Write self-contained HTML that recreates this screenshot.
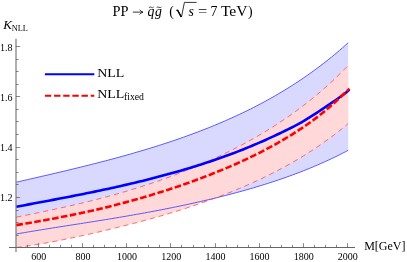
<!DOCTYPE html>
<html><head><meta charset="utf-8"><style>
html,body{margin:0;padding:0;background:#fff;}
svg{display:block;font-family:"Liberation Serif",serif;fill:#000;will-change:transform;opacity:0.999;}
</style></head><body>
<svg width="407" height="262" viewBox="0 0 407 262">
<rect width="407" height="262" fill="#fff"/>
<path d="M16.40,182.20 L19.19,181.55 L21.98,180.91 L24.76,180.26 L27.55,179.62 L30.34,178.98 L33.13,178.33 L35.92,177.69 L38.71,177.05 L41.49,176.40 L44.28,175.76 L47.07,175.11 L49.86,174.47 L52.65,173.82 L55.44,173.16 L58.22,172.51 L61.01,171.85 L63.80,171.19 L66.59,170.53 L69.38,169.86 L72.16,169.19 L74.95,168.51 L77.74,167.83 L80.53,167.15 L83.32,166.46 L86.11,165.77 L88.89,165.08 L91.68,164.38 L94.47,163.67 L97.26,162.96 L100.05,162.24 L102.84,161.52 L105.62,160.79 L108.41,160.06 L111.20,159.32 L113.99,158.57 L116.78,157.82 L119.56,157.06 L122.35,156.29 L125.14,155.52 L127.93,154.73 L130.72,153.94 L133.51,153.14 L136.29,152.34 L139.08,151.52 L141.87,150.70 L144.66,149.86 L147.45,149.02 L150.24,148.17 L153.02,147.31 L155.81,146.44 L158.60,145.55 L161.39,144.66 L164.18,143.76 L166.96,142.85 L169.75,141.92 L172.54,140.99 L175.33,140.04 L178.12,139.08 L180.91,138.11 L183.69,137.13 L186.48,136.13 L189.27,135.12 L192.06,134.10 L194.85,133.07 L197.64,132.02 L200.42,130.95 L203.21,129.87 L206.00,128.78 L208.79,127.67 L211.58,126.54 L214.36,125.40 L217.15,124.24 L219.94,123.07 L222.73,121.88 L225.52,120.67 L228.31,119.44 L231.09,118.19 L233.88,116.93 L236.67,115.65 L239.46,114.34 L242.25,113.02 L245.04,111.68 L247.82,110.32 L250.61,108.94 L253.40,107.53 L256.19,106.10 L258.98,104.65 L261.76,103.18 L264.55,101.68 L267.34,100.16 L270.13,98.61 L272.92,97.03 L275.71,95.43 L278.49,93.81 L281.28,92.16 L284.07,90.48 L286.86,88.77 L289.65,87.03 L292.44,85.27 L295.22,83.47 L298.01,81.65 L300.80,79.79 L303.59,77.91 L306.38,75.99 L309.16,74.03 L311.95,72.04 L314.74,70.02 L317.53,67.96 L320.32,65.87 L323.11,63.73 L325.89,61.57 L328.68,59.36 L331.47,57.11 L334.26,54.82 L337.05,52.49 L339.84,50.12 L342.62,47.71 L345.41,45.25 L348.20,42.75 L348.20,150.30 L345.41,151.77 L342.62,153.21 L339.84,154.62 L337.05,156.01 L334.26,157.37 L331.47,158.70 L328.68,160.00 L325.89,161.29 L323.11,162.55 L320.32,163.78 L317.53,165.00 L314.74,166.19 L311.95,167.36 L309.16,168.51 L306.38,169.63 L303.59,170.74 L300.80,171.83 L298.01,172.90 L295.22,173.96 L292.44,174.99 L289.65,176.01 L286.86,177.01 L284.07,178.00 L281.28,178.96 L278.49,179.92 L275.71,180.85 L272.92,181.77 L270.13,182.68 L267.34,183.57 L264.55,184.45 L261.76,185.32 L258.98,186.17 L256.19,187.01 L253.40,187.84 L250.61,188.65 L247.82,189.46 L245.04,190.25 L242.25,191.03 L239.46,191.80 L236.67,192.56 L233.88,193.31 L231.09,194.04 L228.31,194.77 L225.52,195.49 L222.73,196.20 L219.94,196.90 L217.15,197.59 L214.36,198.27 L211.58,198.94 L208.79,199.61 L206.00,200.26 L203.21,200.91 L200.42,201.55 L197.64,202.18 L194.85,202.81 L192.06,203.42 L189.27,204.03 L186.48,204.64 L183.69,205.23 L180.91,205.82 L178.12,206.40 L175.33,206.98 L172.54,207.55 L169.75,208.11 L166.96,208.66 L164.18,209.21 L161.39,209.76 L158.60,210.29 L155.81,210.83 L153.02,211.35 L150.24,211.88 L147.45,212.39 L144.66,212.90 L141.87,213.41 L139.08,213.91 L136.29,214.41 L133.51,214.90 L130.72,215.39 L127.93,215.88 L125.14,216.36 L122.35,216.83 L119.56,217.30 L116.78,217.77 L113.99,218.24 L111.20,218.70 L108.41,219.16 L105.62,219.61 L102.84,220.07 L100.05,220.52 L97.26,220.96 L94.47,221.41 L91.68,221.85 L88.89,222.29 L86.11,222.73 L83.32,223.17 L80.53,223.61 L77.74,224.05 L74.95,224.48 L72.16,224.92 L69.38,225.35 L66.59,225.79 L63.80,226.22 L61.01,226.66 L58.22,227.10 L55.44,227.54 L52.65,227.98 L49.86,228.42 L47.07,228.87 L44.28,229.32 L41.49,229.77 L38.71,230.22 L35.92,230.68 L33.13,231.14 L30.34,231.60 L27.55,232.07 L24.76,232.55 L21.98,233.03 L19.19,233.51 L16.40,234.00Z" fill="#d9d9ff" stroke="none"/>
<path d="M16.40,217.16 L19.19,216.59 L21.98,216.02 L24.76,215.45 L27.55,214.88 L30.34,214.31 L33.13,213.74 L35.92,213.16 L38.71,212.59 L41.49,212.01 L44.28,211.43 L47.07,210.84 L49.86,210.25 L52.65,209.66 L55.44,209.06 L58.22,208.46 L61.01,207.85 L63.80,207.23 L66.59,206.61 L69.38,205.98 L72.16,205.35 L74.95,204.71 L77.74,204.06 L80.53,203.40 L83.32,202.73 L86.11,202.06 L88.89,201.37 L91.68,200.68 L94.47,199.98 L97.26,199.27 L100.05,198.54 L102.84,197.81 L105.62,197.07 L108.41,196.32 L111.20,195.56 L113.99,194.78 L116.78,194.00 L119.56,193.21 L122.35,192.40 L125.14,191.58 L127.93,190.75 L130.72,189.91 L133.51,189.06 L136.29,188.20 L139.08,187.33 L141.87,186.44 L144.66,185.54 L147.45,184.63 L150.24,183.70 L153.02,182.76 L155.81,181.81 L158.60,180.85 L161.39,179.87 L164.18,178.88 L166.96,177.88 L169.75,176.86 L172.54,175.83 L175.33,174.78 L178.12,173.72 L180.91,172.64 L183.69,171.55 L186.48,170.44 L189.27,169.31 L192.06,168.17 L194.85,167.02 L197.64,165.85 L200.42,164.66 L203.21,163.45 L206.00,162.23 L208.79,160.99 L211.58,159.74 L214.36,158.46 L217.15,157.17 L219.94,155.86 L222.73,154.53 L225.52,153.18 L228.31,151.82 L231.09,150.43 L233.88,149.02 L236.67,147.59 L239.46,146.13 L242.25,144.66 L245.04,143.16 L247.82,141.64 L250.61,140.10 L253.40,138.53 L256.19,136.94 L258.98,135.32 L261.76,133.67 L264.55,132.00 L267.34,130.30 L270.13,128.58 L272.92,126.83 L275.71,125.04 L278.49,123.23 L281.28,121.39 L284.07,119.51 L286.86,117.60 L289.65,115.66 L292.44,113.68 L295.22,111.67 L298.01,109.62 L300.80,107.54 L303.59,105.42 L306.38,103.26 L309.16,101.06 L311.95,98.82 L314.74,96.53 L317.53,94.21 L320.32,91.83 L323.11,89.42 L325.89,86.95 L328.68,84.44 L331.47,81.87 L334.26,79.26 L337.05,76.59 L339.84,73.87 L342.62,71.10 L345.41,68.27 L348.20,65.38 L348.20,123.56 L345.41,125.89 L342.62,128.17 L339.84,130.41 L337.05,132.61 L334.26,134.76 L331.47,136.86 L328.68,138.93 L325.89,140.96 L323.11,142.94 L320.32,144.89 L317.53,146.80 L314.74,148.67 L311.95,150.51 L309.16,152.31 L306.38,154.08 L303.59,155.82 L300.80,157.53 L298.01,159.20 L295.22,160.85 L292.44,162.46 L289.65,164.05 L286.86,165.61 L284.07,167.14 L281.28,168.64 L278.49,170.12 L275.71,171.58 L272.92,173.01 L270.13,174.42 L267.34,175.80 L264.55,177.16 L261.76,178.50 L258.98,179.82 L256.19,181.11 L253.40,182.39 L250.61,183.64 L247.82,184.88 L245.04,186.10 L242.25,187.30 L239.46,188.48 L236.67,189.64 L233.88,190.79 L231.09,191.92 L228.31,193.04 L225.52,194.14 L222.73,195.22 L219.94,196.29 L217.15,197.34 L214.36,198.38 L211.58,199.41 L208.79,200.42 L206.00,201.42 L203.21,202.40 L200.42,203.37 L197.64,204.33 L194.85,205.28 L192.06,206.22 L189.27,207.14 L186.48,208.05 L183.69,208.95 L180.91,209.84 L178.12,210.72 L175.33,211.59 L172.54,212.45 L169.75,213.30 L166.96,214.14 L164.18,214.96 L161.39,215.78 L158.60,216.59 L155.81,217.38 L153.02,218.17 L150.24,218.95 L147.45,219.71 L144.66,220.47 L141.87,221.21 L139.08,221.95 L136.29,222.68 L133.51,223.40 L130.72,224.12 L127.93,224.83 L125.14,225.53 L122.35,226.23 L119.56,226.93 L116.78,227.62 L113.99,228.31 L111.20,228.99 L108.41,229.67 L105.62,230.34 L102.84,231.00 L100.05,231.66 L97.26,232.32 L94.47,232.96 L91.68,233.60 L88.89,234.23 L86.11,234.85 L83.32,235.46 L80.53,236.07 L77.74,236.67 L74.95,237.26 L72.16,237.84 L69.38,238.42 L66.59,238.99 L63.80,239.55 L61.01,240.10 L58.22,240.65 L55.44,241.19 L52.65,241.72 L49.86,242.24 L47.07,242.75 L44.28,243.25 L41.49,243.74 L38.71,244.22 L35.92,244.68 L33.13,245.13 L30.34,245.56 L27.55,245.98 L24.76,246.38 L21.98,246.76 L19.19,247.12 L16.40,247.46Z" fill="#ffd9d9" stroke="none"/>
<path d="M16.40,182.20 L19.19,181.55 L21.98,180.91 L24.76,180.26 L27.55,179.62 L30.34,178.98 L33.13,178.33 L35.92,177.69 L38.71,177.05 L41.49,176.40 L44.28,175.76 L47.07,175.11 L49.86,174.47 L52.65,173.82 L55.44,173.16 L58.22,172.51 L61.01,171.85 L63.80,171.19 L66.59,170.53 L69.38,169.86 L72.16,169.19 L74.95,168.51 L77.74,167.83 L80.53,167.15 L83.32,166.46 L86.11,165.77 L88.89,165.08 L91.68,164.38 L94.47,163.67 L97.26,162.96 L100.05,162.24 L102.84,161.52 L105.62,160.79 L108.41,160.06 L111.20,159.32 L113.99,158.57 L116.78,157.82 L119.56,157.06 L122.35,156.29 L125.14,155.52 L127.93,154.73 L130.72,153.94 L133.51,153.14 L136.29,152.34 L139.08,151.52 L141.87,150.70 L144.66,149.86 L147.45,149.02 L150.24,148.17 L153.02,147.31 L155.81,146.44 L158.60,145.55 L161.39,144.66 L164.18,143.76 L166.96,142.85 L169.75,141.92 L172.54,140.99 L175.33,140.04 L178.12,139.08 L180.91,138.11 L183.69,137.13 L186.48,136.13 L189.27,135.12 L192.06,134.10 L194.85,133.07 L197.64,132.02 L200.42,130.95 L203.21,129.87 L206.00,128.78 L208.79,127.67 L211.58,126.54 L214.36,125.40 L217.15,124.24 L219.94,123.07 L222.73,121.88 L225.52,120.67 L228.31,119.44 L231.09,118.19 L233.88,116.93 L236.67,115.65 L239.46,114.34 L242.25,113.02 L245.04,111.68 L247.82,110.32 L250.61,108.94 L253.40,107.53 L256.19,106.10 L258.98,104.65 L261.76,103.18 L264.55,101.68 L267.34,100.16 L270.13,98.61 L272.92,97.03 L275.71,95.43 L278.49,93.81 L281.28,92.16 L284.07,90.48 L286.86,88.77 L289.65,87.03 L292.44,85.27 L295.22,83.47 L298.01,81.65 L300.80,79.79 L303.59,77.91 L306.38,75.99 L309.16,74.03 L311.95,72.04 L314.74,70.02 L317.53,67.96 L320.32,65.87 L323.11,63.73 L325.89,61.57 L328.68,59.36 L331.47,57.11 L334.26,54.82 L337.05,52.49 L339.84,50.12 L342.62,47.71 L345.41,45.25 L348.20,42.75" fill="none" stroke="#3333ff" stroke-width="0.8"/>
<path d="M16.40,234.00 L19.19,233.51 L21.98,233.03 L24.76,232.55 L27.55,232.07 L30.34,231.60 L33.13,231.14 L35.92,230.68 L38.71,230.22 L41.49,229.77 L44.28,229.32 L47.07,228.87 L49.86,228.42 L52.65,227.98 L55.44,227.54 L58.22,227.10 L61.01,226.66 L63.80,226.22 L66.59,225.79 L69.38,225.35 L72.16,224.92 L74.95,224.48 L77.74,224.05 L80.53,223.61 L83.32,223.17 L86.11,222.73 L88.89,222.29 L91.68,221.85 L94.47,221.41 L97.26,220.96 L100.05,220.52 L102.84,220.07 L105.62,219.61 L108.41,219.16 L111.20,218.70 L113.99,218.24 L116.78,217.77 L119.56,217.30 L122.35,216.83 L125.14,216.36 L127.93,215.88 L130.72,215.39 L133.51,214.90 L136.29,214.41 L139.08,213.91 L141.87,213.41 L144.66,212.90 L147.45,212.39 L150.24,211.88 L153.02,211.35 L155.81,210.83 L158.60,210.29 L161.39,209.76 L164.18,209.21 L166.96,208.66 L169.75,208.11 L172.54,207.55 L175.33,206.98 L178.12,206.40 L180.91,205.82 L183.69,205.23 L186.48,204.64 L189.27,204.03 L192.06,203.42 L194.85,202.81 L197.64,202.18 L200.42,201.55 L203.21,200.91 L206.00,200.26 L208.79,199.61 L211.58,198.94 L214.36,198.27 L217.15,197.59 L219.94,196.90 L222.73,196.20 L225.52,195.49 L228.31,194.77 L231.09,194.04 L233.88,193.31 L236.67,192.56 L239.46,191.80 L242.25,191.03 L245.04,190.25 L247.82,189.46 L250.61,188.65 L253.40,187.84 L256.19,187.01 L258.98,186.17 L261.76,185.32 L264.55,184.45 L267.34,183.57 L270.13,182.68 L272.92,181.77 L275.71,180.85 L278.49,179.92 L281.28,178.96 L284.07,178.00 L286.86,177.01 L289.65,176.01 L292.44,174.99 L295.22,173.96 L298.01,172.90 L300.80,171.83 L303.59,170.74 L306.38,169.63 L309.16,168.51 L311.95,167.36 L314.74,166.19 L317.53,165.00 L320.32,163.78 L323.11,162.55 L325.89,161.29 L328.68,160.00 L331.47,158.70 L334.26,157.37 L337.05,156.01 L339.84,154.62 L342.62,153.21 L345.41,151.77 L348.20,150.30" fill="none" stroke="#3333ff" stroke-width="0.8"/>
<path d="M16.40,217.16 L19.19,216.59 L21.98,216.02 L24.76,215.45 L27.55,214.88 L30.34,214.31 L33.13,213.74 L35.92,213.16 L38.71,212.59 L41.49,212.01 L44.28,211.43 L47.07,210.84 L49.86,210.25 L52.65,209.66 L55.44,209.06 L58.22,208.46 L61.01,207.85 L63.80,207.23 L66.59,206.61 L69.38,205.98 L72.16,205.35 L74.95,204.71 L77.74,204.06 L80.53,203.40 L83.32,202.73 L86.11,202.06 L88.89,201.37 L91.68,200.68 L94.47,199.98 L97.26,199.27 L100.05,198.54 L102.84,197.81 L105.62,197.07 L108.41,196.32 L111.20,195.56 L113.99,194.78 L116.78,194.00 L119.56,193.21 L122.35,192.40 L125.14,191.58 L127.93,190.75 L130.72,189.91 L133.51,189.06 L136.29,188.20 L139.08,187.33 L141.87,186.44 L144.66,185.54 L147.45,184.63 L150.24,183.70 L153.02,182.76 L155.81,181.81 L158.60,180.85 L161.39,179.87 L164.18,178.88 L166.96,177.88 L169.75,176.86 L172.54,175.83 L175.33,174.78 L178.12,173.72 L180.91,172.64 L183.69,171.55 L186.48,170.44 L189.27,169.31 L192.06,168.17 L194.85,167.02 L197.64,165.85 L200.42,164.66 L203.21,163.45 L206.00,162.23 L208.79,160.99 L211.58,159.74 L214.36,158.46 L217.15,157.17 L219.94,155.86 L222.73,154.53 L225.52,153.18 L228.31,151.82 L231.09,150.43 L233.88,149.02 L236.67,147.59 L239.46,146.13 L242.25,144.66 L245.04,143.16 L247.82,141.64 L250.61,140.10 L253.40,138.53 L256.19,136.94 L258.98,135.32 L261.76,133.67 L264.55,132.00 L267.34,130.30 L270.13,128.58 L272.92,126.83 L275.71,125.04 L278.49,123.23 L281.28,121.39 L284.07,119.51 L286.86,117.60 L289.65,115.66 L292.44,113.68 L295.22,111.67 L298.01,109.62 L300.80,107.54 L303.59,105.42 L306.38,103.26 L309.16,101.06 L311.95,98.82 L314.74,96.53 L317.53,94.21 L320.32,91.83 L323.11,89.42 L325.89,86.95 L328.68,84.44 L331.47,81.87 L334.26,79.26 L337.05,76.59 L339.84,73.87 L342.62,71.10 L345.41,68.27 L348.20,65.38" fill="none" stroke="#ff4646" stroke-width="0.8" stroke-dasharray="5.2 3.9"/>
<path d="M16.40,247.46 L19.19,247.12 L21.98,246.76 L24.76,246.38 L27.55,245.98 L30.34,245.56 L33.13,245.13 L35.92,244.68 L38.71,244.22 L41.49,243.74 L44.28,243.25 L47.07,242.75 L49.86,242.24 L52.65,241.72 L55.44,241.19 L58.22,240.65 L61.01,240.10 L63.80,239.55 L66.59,238.99 L69.38,238.42 L72.16,237.84 L74.95,237.26 L77.74,236.67 L80.53,236.07 L83.32,235.46 L86.11,234.85 L88.89,234.23 L91.68,233.60 L94.47,232.96 L97.26,232.32 L100.05,231.66 L102.84,231.00 L105.62,230.34 L108.41,229.67 L111.20,228.99 L113.99,228.31 L116.78,227.62 L119.56,226.93 L122.35,226.23 L125.14,225.53 L127.93,224.83 L130.72,224.12 L133.51,223.40 L136.29,222.68 L139.08,221.95 L141.87,221.21 L144.66,220.47 L147.45,219.71 L150.24,218.95 L153.02,218.17 L155.81,217.38 L158.60,216.59 L161.39,215.78 L164.18,214.96 L166.96,214.14 L169.75,213.30 L172.54,212.45 L175.33,211.59 L178.12,210.72 L180.91,209.84 L183.69,208.95 L186.48,208.05 L189.27,207.14 L192.06,206.22 L194.85,205.28 L197.64,204.33 L200.42,203.37 L203.21,202.40 L206.00,201.42 L208.79,200.42 L211.58,199.41 L214.36,198.38 L217.15,197.34 L219.94,196.29 L222.73,195.22 L225.52,194.14 L228.31,193.04 L231.09,191.92 L233.88,190.79 L236.67,189.64 L239.46,188.48 L242.25,187.30 L245.04,186.10 L247.82,184.88 L250.61,183.64 L253.40,182.39 L256.19,181.11 L258.98,179.82 L261.76,178.50 L264.55,177.16 L267.34,175.80 L270.13,174.42 L272.92,173.01 L275.71,171.58 L278.49,170.12 L281.28,168.64 L284.07,167.14 L286.86,165.61 L289.65,164.05 L292.44,162.46 L295.22,160.85 L298.01,159.20 L300.80,157.53 L303.59,155.82 L306.38,154.08 L309.16,152.31 L311.95,150.51 L314.74,148.67 L317.53,146.80 L320.32,144.89 L323.11,142.94 L325.89,140.96 L328.68,138.93 L331.47,136.86 L334.26,134.76 L337.05,132.61 L339.84,130.41 L342.62,128.17 L345.41,125.89 L348.20,123.56" fill="none" stroke="#ff4646" stroke-width="0.8" stroke-dasharray="5.2 3.9"/>
<path d="M16.40,206.80 L19.20,206.26 L22.00,205.72 L24.80,205.18 L27.60,204.65 L30.40,204.12 L33.19,203.59 L35.99,203.06 L38.79,202.53 L41.59,202.00 L44.39,201.47 L47.19,200.94 L49.99,200.41 L52.79,199.88 L55.59,199.35 L58.39,198.82 L61.19,198.28 L63.99,197.75 L66.78,197.21 L69.58,196.66 L72.38,196.12 L75.18,195.57 L77.98,195.02 L80.78,194.46 L83.58,193.90 L86.38,193.34 L89.18,192.77 L91.98,192.19 L94.78,191.62 L97.58,191.03 L100.37,190.44 L103.17,189.85 L105.97,189.25 L108.77,188.65 L111.57,188.04 L114.37,187.42 L117.17,186.80 L119.97,186.17 L122.77,185.53 L125.57,184.89 L128.37,184.24 L131.17,183.59 L133.96,182.92 L136.76,182.25 L139.56,181.57 L142.36,180.89 L145.16,180.20 L147.96,179.50 L150.76,178.79 L153.56,178.07 L156.36,177.34 L159.16,176.61 L161.96,175.86 L164.76,175.11 L167.55,174.35 L170.35,173.58 L173.15,172.80 L175.95,172.00 L178.75,171.20 L181.55,170.39 L184.35,169.57 L187.15,168.73 L189.95,167.89 L192.75,167.03 L195.55,166.16 L198.35,165.29 L201.14,164.40 L203.94,163.49 L206.74,162.58 L209.54,161.65 L212.34,160.71 L215.14,159.76 L217.94,158.80 L220.74,157.82 L223.54,156.83 L226.34,155.82 L229.14,154.80 L231.94,153.76 L234.73,152.70 L237.53,151.63 L240.33,150.54 L243.13,149.43 L245.93,148.31 L248.73,147.16 L251.53,146.00 L254.33,144.82 L257.13,143.63 L259.93,142.42 L262.73,141.19 L265.53,139.94 L268.32,138.67 L271.12,137.39 L273.92,136.10 L276.72,134.78 L279.52,133.46 L282.32,132.12 L285.12,130.76 L287.92,129.39 L290.72,128.00 L293.52,126.58 L296.32,125.12 L299.12,123.60 L301.91,122.03 L304.71,120.39 L307.51,118.70 L310.31,116.96 L313.11,115.18 L315.91,113.37 L318.71,111.52 L321.51,109.65 L324.31,107.77 L327.11,105.89 L329.91,104.00 L332.71,102.12 L335.50,100.23 L338.30,98.29 L341.10,96.29 L343.90,94.19 L346.70,91.97 L349.50,89.60" fill="none" stroke="#0000ff" stroke-width="2.6"/>
<path d="M16.40,225.10 L19.20,224.62 L22.00,224.14 L24.80,223.66 L27.60,223.17 L30.40,222.69 L33.19,222.20 L35.99,221.71 L38.79,221.21 L41.59,220.72 L44.39,220.21 L47.19,219.71 L49.99,219.20 L52.79,218.68 L55.59,218.16 L58.39,217.63 L61.19,217.09 L63.99,216.55 L66.78,216.00 L69.58,215.44 L72.38,214.87 L75.18,214.30 L77.98,213.71 L80.78,213.12 L83.58,212.52 L86.38,211.91 L89.18,211.29 L91.98,210.67 L94.78,210.03 L97.58,209.38 L100.37,208.72 L103.17,208.06 L105.97,207.38 L108.77,206.69 L111.57,206.00 L114.37,205.29 L117.17,204.57 L119.97,203.85 L122.77,203.11 L125.57,202.37 L128.37,201.61 L131.17,200.84 L133.96,200.06 L136.76,199.28 L139.56,198.48 L142.36,197.67 L145.16,196.85 L147.96,196.02 L150.76,195.18 L153.56,194.33 L156.36,193.47 L159.16,192.60 L161.96,191.71 L164.76,190.82 L167.55,189.91 L170.35,189.00 L173.15,188.07 L175.95,187.13 L178.75,186.18 L181.55,185.22 L184.35,184.24 L187.15,183.26 L189.95,182.26 L192.75,181.25 L195.55,180.23 L198.35,179.19 L201.14,178.14 L203.94,177.08 L206.74,176.01 L209.54,174.92 L212.34,173.82 L215.14,172.70 L217.94,171.57 L220.74,170.42 L223.54,169.26 L226.34,168.08 L229.14,166.89 L231.94,165.68 L234.73,164.45 L237.53,163.20 L240.33,161.94 L243.13,160.66 L245.93,159.36 L248.73,158.03 L251.53,156.69 L254.33,155.33 L257.13,153.95 L259.93,152.54 L262.73,151.11 L265.53,149.65 L268.32,148.17 L271.12,146.66 L273.92,145.13 L276.72,143.57 L279.52,141.98 L282.32,140.35 L285.12,138.70 L287.92,137.01 L290.72,135.29 L293.52,133.54 L296.32,131.75 L299.12,129.92 L301.91,128.07 L304.71,126.17 L307.51,124.23 L310.31,122.24 L313.11,120.20 L315.91,118.10 L318.71,115.94 L321.51,113.71 L324.31,111.43 L327.11,109.08 L329.91,106.67 L332.71,104.21 L335.50,101.69 L338.30,99.13 L341.10,96.55 L343.90,93.94 L346.70,91.33 L349.50,88.72" fill="none" stroke="#ff0000" stroke-width="2.6" stroke-dasharray="6.6 2.45" stroke-dashoffset="0"/>
<path d="M16.0,38.8 V252" stroke="#606060" stroke-width="1.0" fill="none"/>
<path d="M9,247.5 H355" stroke="#666" stroke-width="1.0" fill="none"/>
<path d="M27.50,247.5 v-2.7 M38.50,247.5 v-4.3 M49.50,247.5 v-2.7 M60.50,247.5 v-2.7 M71.50,247.5 v-2.7 M82.50,247.5 v-4.3 M93.50,247.5 v-2.7 M104.50,247.5 v-2.7 M115.50,247.5 v-2.7 M126.50,247.5 v-4.3 M137.50,247.5 v-2.7 M148.50,247.5 v-2.7 M159.50,247.5 v-2.7 M170.50,247.5 v-4.3 M181.50,247.5 v-2.7 M193.50,247.5 v-2.7 M204.50,247.5 v-2.7 M215.50,247.5 v-4.3 M226.50,247.5 v-2.7 M237.50,247.5 v-2.7 M248.50,247.5 v-2.7 M259.50,247.5 v-4.3 M270.50,247.5 v-2.7 M281.50,247.5 v-2.7 M292.50,247.5 v-2.7 M303.50,247.5 v-4.3 M314.50,247.5 v-2.7 M325.50,247.5 v-2.7 M336.50,247.5 v-2.7 M347.50,247.5 v-4.3 M16.0,235.50 h2.6 M16.0,222.50 h2.6 M16.0,210.50 h2.6 M16.0,197.50 h4.1 M16.0,184.50 h2.6 M16.0,172.50 h2.6 M16.0,159.50 h2.6 M16.0,147.50 h4.1 M16.0,134.50 h2.6 M16.0,121.50 h2.6 M16.0,109.50 h2.6 M16.0,96.50 h4.1 M16.0,84.50 h2.6 M16.0,71.50 h2.6 M16.0,59.50 h2.6 M16.0,46.50 h4.1" stroke="#555" stroke-width="0.7" fill="none"/>
<path d="M44.9,74.2 H94.3" stroke="#0000ff" stroke-width="2" fill="none"/>
<path d="M44.9,95.8 H94.3" stroke="#ff0000" stroke-width="1.9" stroke-dasharray="6.4 2.75" fill="none"/>
<text x="38.8" y="259.7" font-size="10" text-anchor="middle" >600</text>
<text x="82.9" y="259.7" font-size="10" text-anchor="middle" >800</text>
<text x="127.1" y="259.7" font-size="10" text-anchor="middle" >1000</text>
<text x="171.2" y="259.7" font-size="10" text-anchor="middle" >1200</text>
<text x="215.4" y="259.7" font-size="10" text-anchor="middle" >1400</text>
<text x="259.5" y="259.7" font-size="10" text-anchor="middle" >1600</text>
<text x="303.7" y="259.7" font-size="10" text-anchor="middle" >1800</text>
<text x="347.8" y="259.7" font-size="10" text-anchor="middle" >2000</text>
<text x="12.6" y="50.7" font-size="10" text-anchor="end" >1.8</text>
<text x="12.6" y="100.7" font-size="10" text-anchor="end" >1.6</text>
<text x="12.6" y="150.8" font-size="10" text-anchor="end" >1.4</text>
<text x="12.6" y="200.85" font-size="10" text-anchor="end" >1.2</text>
<text x="364.2" y="250.2" font-size="12" text-anchor="start" >M[GeV]</text>
<text x="3.2" y="28.7" font-size="13" text-anchor="start" font-style="italic">K</text>
<text x="11.7" y="30.7" font-size="8.3" text-anchor="start" >NLL</text>
<text x="97.2" y="76.8" font-size="13.2" text-anchor="start" textLength="27.2" lengthAdjust="spacingAndGlyphs">NLL</text>
<text x="97.2" y="97.8" font-size="13.2" text-anchor="start" textLength="27.2" lengthAdjust="spacingAndGlyphs">NLL</text>
<text x="124.0" y="100" font-size="9.5" text-anchor="start" textLength="20" lengthAdjust="spacingAndGlyphs">fixed</text>
<g font-size="13.8">
<text x="112.5" y="15.7" textLength="16" lengthAdjust="spacingAndGlyphs">PP</text>
<path d="M132.8,12.1 H142.6 M139.6,9.7 Q141,11.6 143,12.1 Q141,12.6 139.6,14.5" stroke="#000" stroke-width="0.8" fill="none"/>
<text x="147.5" y="15.7" font-style="italic">q</text>
<text x="154.9" y="15.7" font-style="italic">g</text>
<path d="M148.9,7.6 q1.2,-1.2 2.4,-0.3 q1.2,0.9 2.4,-0.3 M156.6,7.6 q1.2,-1.2 2.4,-0.3 q1.2,0.9 2.4,-0.3" stroke="#000" stroke-width="0.7" fill="none"/>
<text x="169.3" y="15.7">(</text>
<path d="M175.9,10.6 l1.7,-0.8 l3.9,7.2 l2.9,-14.6 H196.6" stroke="#000" stroke-width="0.8" fill="none"/>
<path d="M177.4,10 l3.8,7" stroke="#000" stroke-width="1.5" fill="none"/>
<text x="188.5" y="15.7" font-style="italic">s</text>
<text x="198.1" y="15.7" textLength="9.2" lengthAdjust="spacingAndGlyphs">=</text>
<text x="210.4" y="15.7">7</text>
<text x="220.9" y="15.7" textLength="26.6" lengthAdjust="spacingAndGlyphs">TeV</text>
<text x="248.1" y="15.7">)</text>
</g>

</svg>
</body></html>
